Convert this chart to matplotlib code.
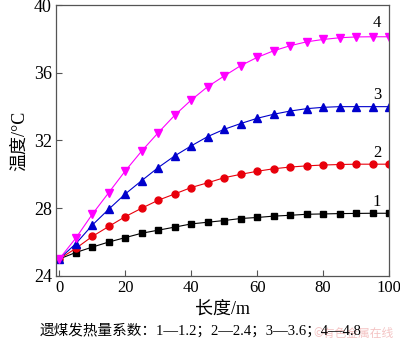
import matplotlib
matplotlib.use("Agg")
import matplotlib.pyplot as plt

plt.rcParams['font.family'] = ['Liberation Serif', 'Noto Sans CJK SC']

length = [0, 5, 10, 15, 20, 25, 30, 35, 40, 45, 50, 55, 60, 65, 70, 75, 80, 85, 90, 95, 100]
temp_1 = [25.0, 25.38, 25.7, 26.0, 26.26, 26.52, 26.7, 26.88, 27.07, 27.17, 27.27, 27.39,
          27.45, 27.53, 27.58, 27.64, 27.66, 27.68, 27.69, 27.7, 27.7]
temp_2 = [25.0, 25.62, 26.33, 26.92, 27.5, 28.0, 28.47, 28.84, 29.22, 29.5, 29.8, 30.0,
          30.18, 30.33, 30.43, 30.5, 30.55, 30.58, 30.6, 30.6, 30.6]
temp_3 = [25.0, 25.9, 27.0, 27.94, 28.84, 29.63, 30.4, 31.09, 31.68, 32.23, 32.66, 33.0,
          33.31, 33.55, 33.74, 33.88, 33.96, 34.0, 34.0, 34.0, 34.0]
temp_4 = [25.0, 26.23, 27.64, 28.92, 30.2, 31.38, 32.46, 33.49, 34.39, 35.18, 35.81, 36.42,
          36.91, 37.3, 37.6, 37.83, 37.97, 38.07, 38.12, 38.13, 38.13]
curve_labels = ['1', '2', '3', '4']
label_y = [28.37, 31.26, 34.7, 38.94]

fig = plt.figure(figsize=(4.0, 3.41), dpi=100)
ax = fig.add_axes([0.14, 0.191, 0.8325, 0.794])

ax.plot(length, temp_1, color='black', lw=0.8, marker='s', ms=4.5)
ax.plot(length, temp_2, color='#e8000b', lw=0.8, marker='o', ms=5)
ax.plot(length, temp_3, color='#0000cc', lw=0.8, marker='^', ms=5.5)
ax.plot(length, temp_4, color='#ff00ff', lw=0.8, marker='v', ms=5.5)

for lab, yy in zip(curve_labels, label_y):
  ax.text(96.4, yy, lab, fontsize=12, ha='center', va='center')

ax.set_xlim(-1, 100)
ax.set_ylim(24, 40)
ax.set_xticks([0, 20, 40, 60, 80, 100])
ax.set_yticks([24, 28, 32, 36, 40])
ax.tick_params(direction='in', length=4, color='#555555', pad=3)
ax.tick_params(axis='y', labelsize=13)
ax.tick_params(axis='x', labelsize=12)
for sp in ax.spines.values():
  sp.set_color('#555555')
  sp.set_linewidth(0.9)

ax.set_xlabel('长度/m', fontsize=13, labelpad=3)
ax.set_ylabel('温度/°C', fontsize=13, labelpad=4)

fig.text(0.502, 0.032, '遗煤发热量系数：1—1.2；2—2.4；3—3.6；4—4.8', fontsize=10.5,
         ha='center', va='center')
# faint watermark, as in the source image
fig.text(0.985, 0.022, '©有色金属在线', fontsize=8.5, color='#f4c4c4', ha='right', va='center',
         family=['Noto Sans CJK SC', 'DejaVu Sans'], zorder=0)

fig.savefig('out.png', dpi=100)
